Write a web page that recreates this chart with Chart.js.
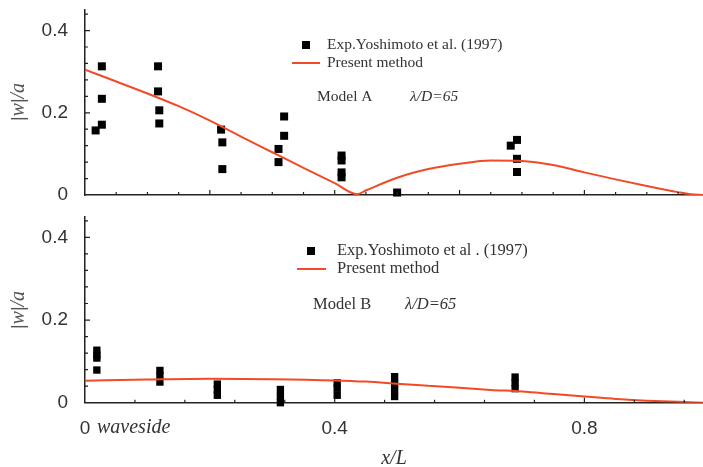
<!DOCTYPE html>
<html>
<head>
<meta charset="utf-8">
<script src="https://cdn.jsdelivr.net/npm/chart.js@4.4.0/dist/chart.umd.min.js"></script>
<style>
  body { margin: 0; background: #fff; }
  .panel { position: absolute; left: 0; width: 703px; }
</style>
</head>
<body>
<div class="panel" style="top:0;height:205px"><canvas id="chartA"></canvas></div>
<div class="panel" style="top:205px;height:262px"><canvas id="chartB"></canvas></div>
<script>
// Model A: computed response along the structure
const curveAx = [0, 0.05, 0.1, 0.15, 0.2, 0.25, 0.3, 0.35, 0.4, 0.436, 0.45, 0.5, 0.55, 0.6, 0.65, 0.7, 0.75, 0.8, 0.85, 0.9, 0.95, 0.97, 0.99];
const curveAy = [0.305, 0.276, 0.247, 0.216, 0.181, 0.142, 0.104, 0.066, 0.029, 0.002, 0.011, 0.042, 0.063, 0.076, 0.084, 0.083, 0.073, 0.055, 0.038, 0.022, 0.007, 0.002, 0.0];

// Model A: measurements (Yoshimoto et al. 1997)
const expAx = [0.017, 0.027, 0.027, 0.027, 0.117, 0.117, 0.119, 0.119, 0.218, 0.220, 0.220,
               0.310, 0.310, 0.319, 0.319, 0.411, 0.411, 0.411, 0.411, 0.500, 0.682, 0.692, 0.692, 0.692];
const expAy = [0.157, 0.313, 0.234, 0.171, 0.313, 0.252, 0.206, 0.174, 0.159, 0.128, 0.063,
               0.112, 0.080, 0.191, 0.144, 0.096, 0.084, 0.055, 0.043, 0.006, 0.120, 0.134, 0.088, 0.056];

// Model B: computed response
const curveBx = [0, 0.1, 0.2, 0.3, 0.4, 0.45, 0.5, 0.55, 0.6, 0.65, 0.7, 0.75, 0.8, 0.85, 0.9, 0.95, 0.99];
const curveBy = [0.053, 0.056, 0.058, 0.057, 0.054, 0.051, 0.046, 0.041, 0.036, 0.031, 0.027, 0.021, 0.015, 0.009, 0.005, 0.002, 0.0];

// Model B: measurements
const expBx = [0.019, 0.019, 0.019, 0.019, 0.120, 0.120, 0.120, 0.212, 0.212, 0.212,
               0.313, 0.313, 0.313, 0.404, 0.404, 0.404, 0.496, 0.496, 0.496, 0.496, 0.689, 0.689, 0.689];
const expBy = [0.127, 0.115, 0.108, 0.079, 0.078, 0.065, 0.050, 0.045, 0.032, 0.018,
               0.032, 0.015, 0.000, 0.048, 0.035, 0.018, 0.063, 0.047, 0.031, 0.015, 0.062, 0.048, 0.034];

const yTickLabels = [0, 0.2, 0.4];
const xTickLabels = [0, 0.4, 0.8];

const RED = '#f04b26';
const INK = '#222';
const TEXT = '#333';
const SERIF = '"Liberation Serif", "Times New Roman", serif';
const SANS = '"Liberation Sans", Arial, sans-serif';

const zip = (xs, ys) => xs.map((x, i) => ({ x: x, y: ys[i] }));

// small inward tick marks on both axes
const innerTicks = {
  id: 'innerTicks',
  afterDraw(chart, args, o) {
    const { ctx, chartArea: a, scales: { x, y } } = chart;
    ctx.save();
    ctx.strokeStyle = INK;
    ctx.lineWidth = 1.2;
    ctx.beginPath();
    for (let i = 1; i * o.xStep <= x.max + 1e-9; i++) {
      const px = x.getPixelForValue(i * o.xStep);
      const len = i % o.xMajor === 0 ? 5 : 3;
      ctx.moveTo(px, a.bottom);
      ctx.lineTo(px, a.bottom - len);
    }
    for (let i = 1; i * o.yStep <= y.max + 1e-9; i++) {
      const py = y.getPixelForValue(i * o.yStep);
      const len = i % o.yMajor === 0 ? 5 : 3;
      ctx.moveTo(a.left, py);
      ctx.lineTo(a.left + len, py);
    }
    ctx.stroke();
    ctx.restore();
  }
};

// legend, model captions and axis titles
const annotations = {
  id: 'annotations',
  afterDraw(chart, args, o) {
    const ctx = chart.ctx;
    ctx.save();
    ctx.textBaseline = 'middle';

    ctx.fillStyle = '#000';
    ctx.fillRect(o.markX - o.markSize / 2, o.row1 - o.markSize / 2, o.markSize, o.markSize);
    ctx.strokeStyle = RED;
    ctx.lineWidth = 2;
    ctx.beginPath();
    ctx.moveTo(o.lineX0, o.row2);
    ctx.lineTo(o.lineX1, o.row2);
    ctx.stroke();

    ctx.fillStyle = TEXT;
    ctx.font = o.size + 'px ' + SERIF;
    ctx.fillText(o.expLabel, o.textX, o.row1);
    ctx.fillText('Present method', o.textX, o.row2);
    ctx.fillText(o.model, o.modelX, o.row3);
    ctx.font = 'italic ' + o.size + 'px ' + SERIF;
    ctx.fillText('\u03bb/D=65', o.ratioX, o.row3);

    if (o.bottomLabels) {
      const x = chart.scales.x;
      ctx.font = 'italic 20px ' + SERIF;
      ctx.fillText('waveside', x.getPixelForValue(0) + 12, o.wavesideY);
      ctx.textAlign = 'center';
      ctx.fillText('x/L', (x.left + x.right) / 2, o.xTitleY);
      ctx.textAlign = 'left';
    }

    // rotated |w|/a
    const parts = [
      ['|', '18px ' + SANS],
      ['w', 'italic 20px ' + SERIF],
      ['|', '18px ' + SANS],
      ['/', 'italic 20px ' + SERIF],
      ['a', 'italic 20px ' + SERIF]
    ];
    let total = 0;
    parts.forEach(p => { ctx.font = p[1]; total += ctx.measureText(p[0]).width; });
    ctx.translate(19, o.titleY);
    ctx.rotate(-Math.PI / 2);
    ctx.fillStyle = '#555';
    let cx = -total / 2;
    parts.forEach(p => {
      ctx.font = p[1];
      ctx.fillText(p[0], cx, 0);
      cx += ctx.measureText(p[0]).width;
    });
    ctx.restore();
  }
};

function makePanel(id, curveX, curveY, expX, expY, cfg) {
  return new Chart(document.getElementById(id), {
    type: 'scatter',
    data: {
      datasets: [{
        type: 'line',
        label: 'Present method',
        data: zip(curveX, curveY),
        borderColor: RED,
        borderWidth: 2,
        pointRadius: 0,
        fill: false,
        cubicInterpolationMode: 'monotone',
        order: 0
      }, {
        label: 'Exp.Yoshimoto et al. (1997)',
        data: zip(expX, expY),
        pointStyle: 'rect',
        pointRadius: cfg.markRadius,
        pointBorderWidth: 0,
        backgroundColor: '#000',
        borderColor: '#000',
        clip: false,
        order: 1
      }]
    },
    options: {
      responsive: true,
      maintainAspectRatio: false,
      animation: false,
      layout: { autoPadding: false, padding: { top: cfg.padTop, right: 0, left: 0, bottom: 0 } },
      plugins: {
        legend: { display: false },
        tooltip: { enabled: false },
        innerTicks: { xStep: cfg.xStep, xMajor: cfg.xMajor, yStep: 0.04, yMajor: 5 },
        annotations: cfg.notes
      },
      scales: {
        x: {
          type: 'linear',
          min: 0,
          max: 0.99,
          grid: { display: false, tickLength: 8 },
          border: { display: true, color: INK, width: 1.5 },
          afterFit: s => {
            s.height = cfg.xHeight;
            s.paddingLeft = 0;
            s.paddingRight = 0;
          },
          afterBuildTicks: s => { s.ticks = xTickLabels.map(v => ({ value: v })); },
          ticks: {
            display: cfg.xLabels,
            autoSkip: false,
            maxRotation: 0,
            padding: 6.5,
            color: TEXT,
            font: { family: SANS, size: 19 },
            callback: v => String(v)
          }
        },
        y: {
          min: 0,
          max: 0.45,
          grid: { display: false, tickLength: 8 },
          border: { display: true, color: INK, width: 1.5 },
          afterFit: s => {
            s.width = 85;
            s.paddingTop = 0;
            s.paddingBottom = 0;
          },
          afterBuildTicks: s => { s.ticks = yTickLabels.map(v => ({ value: v })); },
          ticks: {
            padding: 9,
            color: TEXT,
            font: { family: SANS, size: 19 },
            callback: v => String(v)
          }
        }
      }
    },
    plugins: [innerTicks, annotations]
  });
}

makePanel('chartA', curveAx, curveAy, expAx, expAy, {
  markRadius: 5.66,
  padTop: 10,
  xHeight: 10,
  xStep: 0.05,
  xMajor: 4,
  xLabels: false,
  notes: {
    size: 15.5, markX: 306, markSize: 8, row1: 45, row2: 63, row3: 97,
    lineX0: 292, lineX1: 320, textX: 327,
    expLabel: 'Exp.Yoshimoto et al. (1997)',
    model: 'Model A', modelX: 317, ratioX: 410, titleY: 102
  }
});

makePanel('chartB', curveBx, curveBy, expBx, expBy, {
  markRadius: 5.2,
  padTop: 11.7,
  xHeight: 64.3,
  xStep: 0.08,
  xMajor: 5,
  xLabels: true,
  notes: {
    size: 16.5, markX: 311, markSize: 8, row1: 46, row2: 64, row3: 100,
    lineX0: 297, lineX1: 326, textX: 337,
    expLabel: 'Exp.Yoshimoto et al . (1997)',
    model: 'Model B', modelX: 313, ratioX: 405, titleY: 105,
    bottomLabels: true, wavesideY: 222.5, xTitleY: 254
  }
});
</script>
</body>
</html>
